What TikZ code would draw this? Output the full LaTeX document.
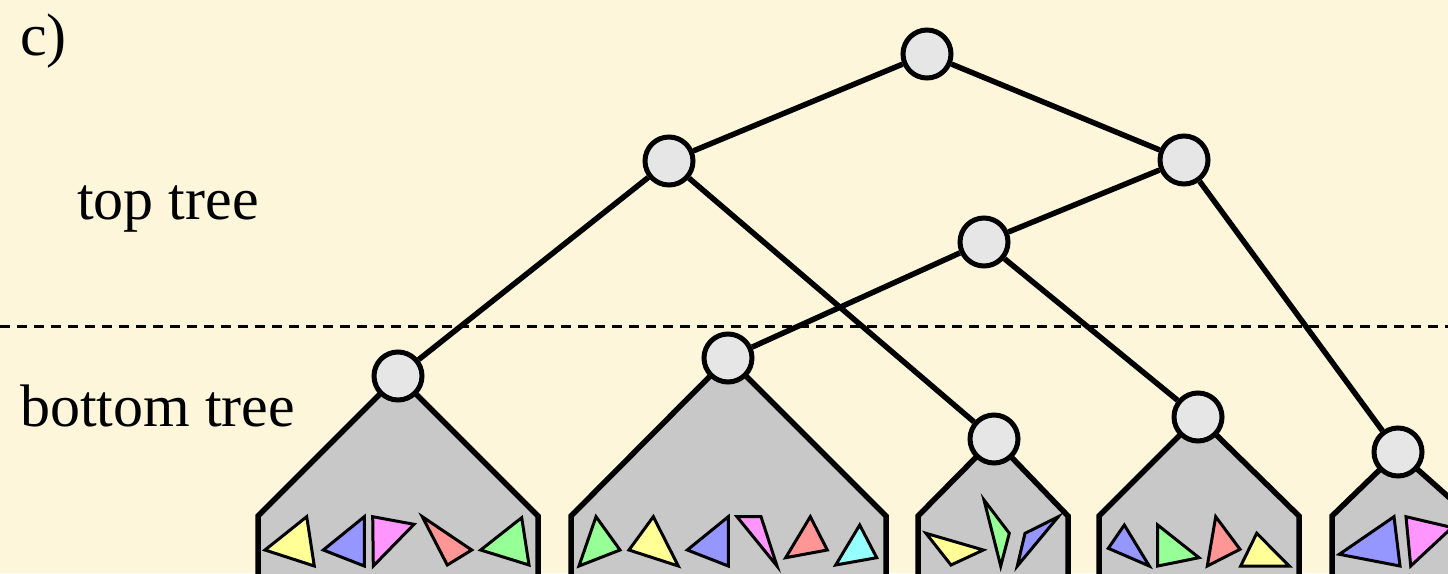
\documentclass[tikz,border=0pt]{standalone}
\usepackage{fontspec}
\setmainfont{Liberation Serif}
\definecolor{bg}{RGB}{253,246,218}
\definecolor{blockgray}{RGB}{200,200,200}
\definecolor{nodegray}{RGB}{230,230,230}
\definecolor{tyellow}{RGB}{255,255,150}
\definecolor{tblue}{RGB}{150,150,255}
\definecolor{tmag}{RGB}{255,150,255}
\definecolor{tred}{RGB}{255,150,150}
\definecolor{tgreen}{RGB}{150,255,150}
\definecolor{tcyan}{RGB}{150,255,255}
\tikzset{
  tnode/.style={circle, draw=black, fill=nodegray, line width=5pt, minimum size=48pt, inner sep=0pt},
  edge/.style={line width=5.5pt},
  block/.style={draw=black, fill=blockgray, line width=5.5pt, line join=miter},
  tri/.style={draw=black, line width=3pt, line join=miter},
  lbl/.style={anchor=base west, inner sep=0pt, font=\fontsize{60}{72}\selectfont},
}
\begin{document}
\begin{tikzpicture}[x=1pt,y=-1pt]
\fill[bg] (0,0) rectangle (1448,573);
\useasboundingbox (0,0) rectangle (1448,573);
\clip (0,0) rectangle (1448,573);

% labels
\node[lbl] (c) at (20,55) {c)};
\node[lbl] (top) at (77,219) {top tree};
\node[lbl] (bot) at (20,426) {bottom tree};

% dashed separator
\coordinate (dl) at (0,326);
\coordinate (dr) at (1448,326);
\draw[line width=3pt, dash pattern=on 10pt off 7pt] (dl) -- (dr);

% node coordinates
\coordinate (pR) at (927,54);
\coordinate (pA) at (669,161);
\coordinate (pB) at (1184,160);
\coordinate (pM) at (984,242);
\coordinate (p1) at (398,376);
\coordinate (p2) at (728,358);
\coordinate (p3) at (994,439);
\coordinate (p4) at (1198,417);
\coordinate (p5) at (1398,452);

% blocks
\draw[block] (p1) -- (258,516) -- (258,590) -- (538,590) -- (538,516) -- cycle;
\draw[block] (p2) -- (571,516) -- (571,590) -- (886,590) -- (886,516) -- cycle;
\draw[block] (p3) -- (918,516) -- (918,590) -- (1068,590) -- (1068,516) -- cycle;
\draw[block] (p4) -- (1099,516) -- (1099,590) -- (1299,590) -- (1299,516) -- cycle;
\draw[block] (p5) -- (1332,516) -- (1332,590) -- (1470,590) -- (1470,516) -- cycle;

% triangles block 1
\filldraw[tri, fill=tyellow] (265,550) -- (306.7,516.7) -- (314.3,566) -- cycle;
\filldraw[tri, fill=tblue] (323.3,550) -- (364.3,516.7) -- (364.3,566) -- cycle;
\filldraw[tri, fill=tmag] (372.7,516.7) -- (414,524.3) -- (373.3,566) -- cycle;
\filldraw[tri, fill=tred] (422.3,516.7) -- (471.7,550) -- (447.3,565) -- cycle;
\filldraw[tri, fill=tgreen] (480.7,550) -- (521.7,517.7) -- (529,565) -- cycle;
% block 2
\filldraw[tri, fill=tgreen] (596,516.7) -- (620,550) -- (579,566) -- cycle;
\filldraw[tri, fill=tyellow] (653.3,516.7) -- (678.3,566) -- (629,550) -- cycle;
\filldraw[tri, fill=tblue] (728.3,516.7) -- (728.3,566) -- (687.3,550) -- cycle;
\filldraw[tri, fill=tmag] (737,516.7) -- (761,516.7) -- (777,566) -- cycle;
\filldraw[tri, fill=tred] (810.3,516.7) -- (827.3,550) -- (785.7,557.7) -- cycle;
\filldraw[tri, fill=tcyan] (859.7,525) -- (876.7,557.7) -- (835.7,565) -- cycle;
% block 3
\filldraw[tri, fill=tyellow] (926,533.3) -- (983.3,550) -- (951,565) -- cycle;
\filldraw[tri, fill=tgreen] (984,500) -- (1009.3,533.3) -- (1000.7,566) -- cycle;
\filldraw[tri, fill=tblue] (1058.3,516.7) -- (1025,533.3) -- (1017.3,566) -- cycle;
% block 4
\filldraw[tri, fill=tblue] (1124.3,525) -- (1149.3,566) -- (1108.3,548.3) -- cycle;
\filldraw[tri, fill=tgreen] (1157.7,525) -- (1199,557.7) -- (1157.7,566) -- cycle;
\filldraw[tri, fill=tred] (1215.7,516.7) -- (1240,549.3) -- (1207.3,566) -- cycle;
\filldraw[tri, fill=tyellow] (1256.7,533.3) -- (1289.3,566) -- (1240.7,566) -- cycle;
% block 5
\filldraw[tri, fill=tblue] (1394,516.7) -- (1400,566) -- (1339.3,554.3) -- cycle;
\filldraw[tri, fill=tmag] (1406,516.7) -- (1452,527.5) -- (1410.7,566) -- cycle;

% tree nodes
\node[tnode] (R) at (pR) {};
\node[tnode] (A) at (pA) {};
\node[tnode] (B) at (pB) {};
\node[tnode] (M) at (pM) {};
\node[tnode] (n1) at (p1) {};
\node[tnode] (n2) at (p2) {};
\node[tnode] (n3) at (p3) {};
\node[tnode] (n4) at (p4) {};
\node[tnode] (n5) at (p5) {};

% edges
\draw[edge] (R) -- (A);
\draw[edge] (R) -- (B);
\draw[edge] (A) -- (n1);
\draw[edge] (A) -- (n3);
\draw[edge] (B) -- (M);
\draw[edge] (B) -- (n5);
\draw[edge] (M) -- (n2);
\draw[edge] (M) -- (n4);
\end{tikzpicture}
\end{document}
